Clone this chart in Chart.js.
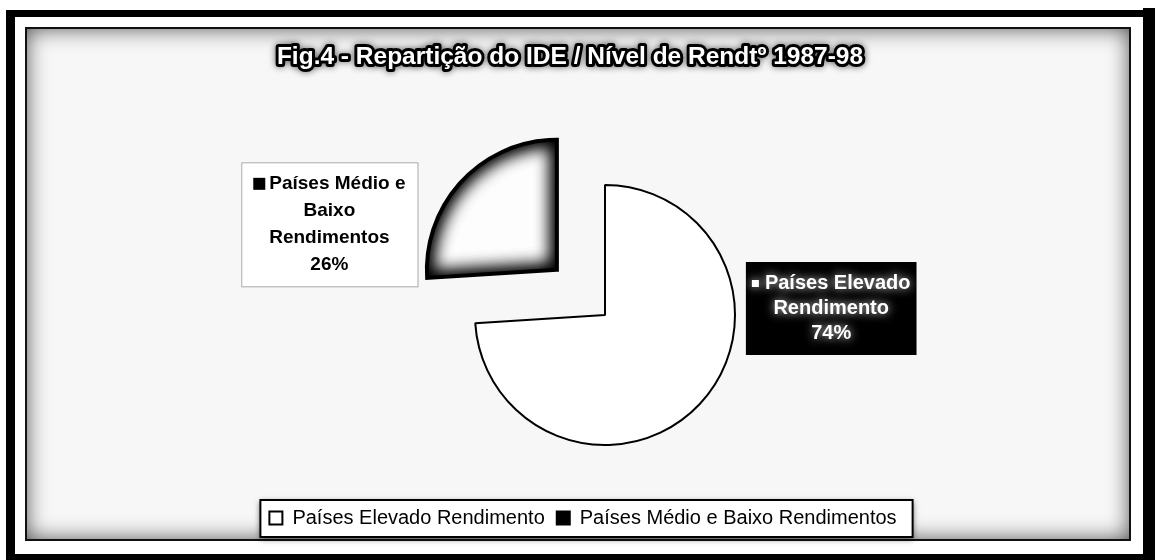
<!DOCTYPE html>
<html><head><meta charset="utf-8">
<script src="https://cdn.jsdelivr.net/npm/chart.js@4/dist/chart.umd.min.js"></script>
<style>html,body{margin:0;padding:0;background:#fff;} canvas{display:block}</style>
</head><body>
<canvas id="c" width="1155" height="560"></canvas>
<script>
// ---- data ----
const chartTitle = 'Fig.4 - Repartição do IDE / Nível de Rendtº 1987-98';
const categories = ['Países Elevado Rendimento', 'Países Médio e Baixo Rendimentos'];
const shares = [74, 26];
const labelLines = [['Países Elevado', 'Rendimento'], ['Países Médio e', 'Baixo', 'Rendimentos']];
// ---- styles ----
const sliceColors = ['#ffffff', '#000000'];
const sliceOffsets = [0, 264];

Chart.defaults.font.family = '"Liberation Sans", Arial, Helvetica, sans-serif';
Chart.defaults.color = '#000';

const W = 1155, H = 560;

const framePlugin = {
  id: 'frame',
  beforeDraw(chart) {
    const ctx = chart.ctx;
    ctx.save();
    ctx.fillStyle = '#fff'; ctx.fillRect(0, 0, W, H);
    ctx.fillStyle = '#000';
    ctx.fillRect(6, 10, 1149, 7);
    ctx.fillRect(6, 10, 9, 550);
    ctx.fillRect(1143, 8, 12, 552);
    ctx.fillRect(6, 554, 1149, 6);
    const px = 26, py = 28, pw = 1104, ph = 512;
    ctx.fillStyle = '#f7f7f7'; ctx.fillRect(px, py, pw, ph);
    ctx.save();
    ctx.beginPath(); ctx.rect(px, py, pw, ph); ctx.clip();
    ctx.beginPath(); ctx.rect(px - 300, py - 300, pw + 600, ph + 600); ctx.rect(px, py, pw, ph);
    ctx.shadowColor = 'rgba(0,0,0,0.7)'; ctx.shadowBlur = 22; ctx.fillStyle = '#000';
    ctx.fill('evenodd');
    ctx.restore();
    ctx.strokeStyle = '#111'; ctx.lineWidth = 2; ctx.strokeRect(px, py, pw, ph);
    // title
    ctx.font = 'bold 24.5px "Liberation Sans", Arial, sans-serif';
    ctx.textAlign = 'center'; ctx.textBaseline = 'middle';
    ctx.lineJoin = 'round';
    ctx.shadowColor = 'rgba(0,0,0,0.6)'; ctx.shadowBlur = 7;
    ctx.lineWidth = 6; ctx.strokeStyle = '#000';
    ctx.strokeText(chartTitle, 570, 57);
    ctx.shadowBlur = 0;
    ctx.fillStyle = '#fff'; ctx.fillText(chartTitle, 570, 57);
    ctx.restore();
  }
};

const legendShift = {
  id: 'legendShift',
  afterLayout(chart) {
    chart.legend.left -= 22; chart.legend.right -= 22;
  },
  beforeDraw(chart) {
    const ctx = chart.ctx, lg = chart.legend;
    const pad = lg.options.labels.padding, lw = lg.lineWidths[0];
    const sx = (lg.left + pad + lg.right - lw) / 2, ex = sx + lw - pad;
    ctx.save();
    ctx.fillStyle = '#fff';
    ctx.shadowColor = 'rgba(0,0,0,0.6)'; ctx.shadowBlur = 6; ctx.shadowOffsetY = 2;
    ctx.fillRect(sx - 9, lg.top + 4, ex - sx + 25, 37);
    ctx.shadowColor = 'transparent';
    ctx.strokeStyle = '#000'; ctx.lineWidth = 2;
    ctx.strokeRect(sx - 9, lg.top + 4, ex - sx + 25, 37);
    ctx.restore();
  }
};

const slicePlugin = {
  id: 'sliceLook',
  afterDatasetsDraw(chart) {
    const ctx = chart.ctx;
    const arc = chart.getDatasetMeta(0).data[1];
    const p = arc.getProps(['x', 'y', 'startAngle', 'endAngle', 'outerRadius'], true);
    const off = (arc.options.offset || 0) / 4;
    const half = (p.startAngle + p.endAngle) / 2;
    const cx = p.x + Math.cos(half) * off, cy = p.y + Math.sin(half) * off;
    const path = new Path2D();
    path.moveTo(cx, cy); path.arc(cx, cy, p.outerRadius, p.startAngle, p.endAngle); path.closePath();
    ctx.save();
    ctx.clip(path);
    ctx.fillStyle = '#fdfdfd'; ctx.fill(path);
    const outer = new Path2D(); outer.rect(0, 0, W, H); outer.addPath(path);
    ctx.shadowColor = '#000'; ctx.shadowBlur = 20; ctx.fillStyle = '#000';
    ctx.fill(outer, 'evenodd'); ctx.fill(outer, 'evenodd'); ctx.fill(outer, 'evenodd');
    ctx.restore();
    ctx.save(); ctx.lineWidth = 4; ctx.strokeStyle = '#000'; ctx.stroke(path); ctx.restore();
  }
};

const labelPlugin = {
  id: 'sliceLabels',
  afterDraw(chart) {
    const ctx = chart.ctx;
    const arcs = chart.getDatasetMeta(0).data;
    const cfg = [
      {dx: 1.74, dy: -0.05, font: 'bold 20px "Liberation Sans", Arial, sans-serif', lh: 25, padX: 6, padY: 9, dark: true, sq: 7, sqGap: 6},
      {dx: -1.75, dy: -0.35, font: 'bold 19px "Liberation Sans", Arial, sans-serif', lh: 27, padX: 12, padY: 8, dark: false, sq: 12, sqGap: 4}
    ];
    arcs.forEach((arc, i) => {
      const p = arc.getProps(['x', 'y', 'startAngle', 'endAngle', 'outerRadius'], true);
      const off = (arc.options.offset || 0) / 4;
      const half = (p.startAngle + p.endAngle) / 2;
      const cx = p.x + Math.cos(half) * off, cy = p.y + Math.sin(half) * off;
      const c = cfg[i];
      const lx = cx + c.dx * p.outerRadius, ly = cy + c.dy * p.outerRadius;
      const lines = labelLines[i].concat([shares[i] + '%']);
      ctx.save();
      ctx.font = c.font;
      const widths = lines.map(l => ctx.measureText(l).width);
      widths[0] += c.sq + c.sqGap;
      const tw = Math.max(...widths);
      const bw = tw + 2 * c.padX, bh = lines.length * c.lh + 2 * c.padY;
      const bx = lx - bw / 2, by = ly - bh / 2;
      if (c.dark) {
        ctx.fillStyle = '#000'; ctx.fillRect(bx, by, bw, bh);
      } else {
        ctx.fillStyle = '#fff'; ctx.fillRect(bx, by, bw, bh);
        ctx.strokeStyle = '#aaa'; ctx.lineWidth = 1; ctx.strokeRect(bx + 0.5, by + 0.5, bw, bh);
      }
      ctx.textBaseline = 'middle';
      const fg = c.dark ? '#fff' : '#000';
      lines.forEach((l, k) => {
        const ty = by + c.padY + c.lh * (k + 0.5);
        if (c.dark) { ctx.shadowColor = 'rgba(255,255,255,0.9)'; ctx.shadowBlur = 10; }
        ctx.fillStyle = fg;
        if (k === 0) {
          const x0 = lx - widths[0] / 2;
          ctx.fillRect(x0, ty - c.sq / 2, c.sq, c.sq);
          ctx.textAlign = 'left';
          ctx.fillText(l, x0 + c.sq + c.sqGap, ty);
        } else {
          ctx.textAlign = 'center';
          ctx.fillText(l, lx, ty);
        }
      });
      ctx.restore();
    });
  }
};

new Chart(document.getElementById('c'), {
  type: 'pie',
  data: {
    labels: categories,
    datasets: [{
      data: shares,
      backgroundColor: sliceColors,
      borderColor: '#000',
      borderWidth: 2,
      offset: sliceOffsets,
      radius: 130
    }]
  },
  options: {
    responsive: false,
    animation: false,
    events: [],
    layout: {padding: {left: 80, right: 25, top: 134, bottom: 22}},
    plugins: {
      title: {display: false},
      tooltip: {enabled: false},
      legend: {
        position: 'bottom',
        labels: {font: {size: 20}, boxWidth: 13, boxHeight: 13, padding: 12, color: '#000'}
      }
    }
  },
  plugins: [framePlugin, legendShift, slicePlugin, labelPlugin]
});
</script>
</body></html>
